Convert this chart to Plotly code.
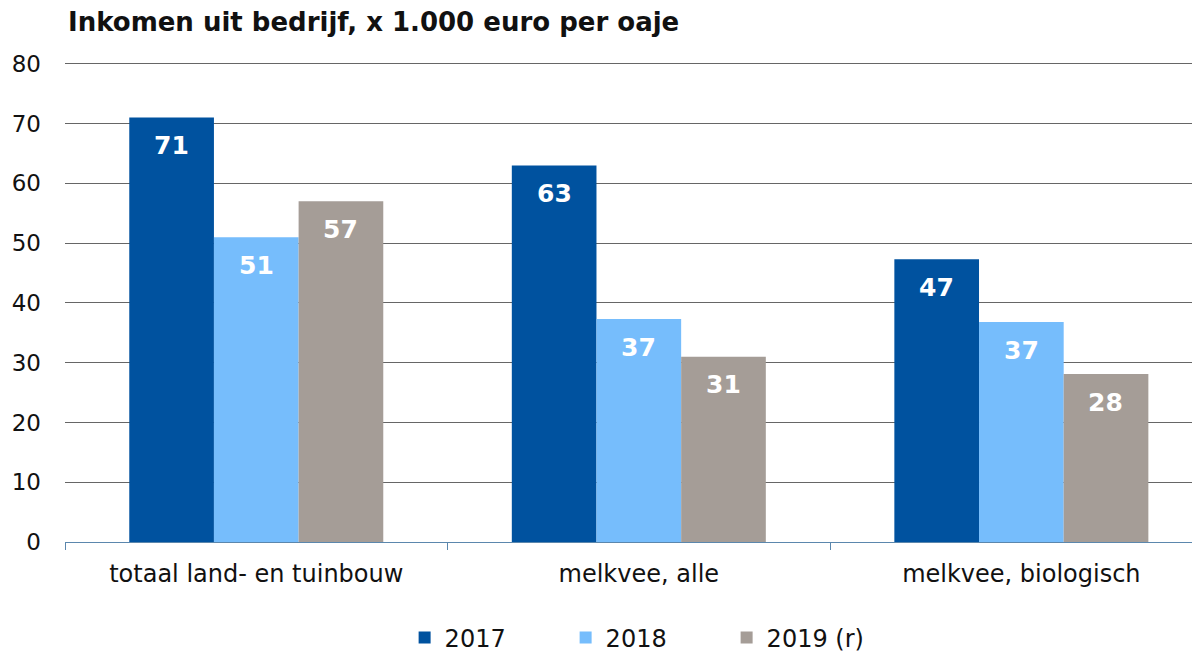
import plotly.graph_objects as go

categories = ["totaal land- en tuinbouw", "melkvee, alle", "melkvee, biologisch"]
series_names = ["2017", "2018", "2019 (r)"]
values_2017 = [71.0, 63.0, 47.3]
values_2018 = [51.0, 37.3, 36.8]
values_2019 = [57.0, 31.0, 28.1]
colors = ["#00529f", "#76bdfc", "#a59d97"]

font = "DejaVu Sans, Verdana, sans-serif"
bar_px = 84.5  # pixel width of one bar, used to centre the value labels

fig = go.Figure()
all_vals = [values_2017, values_2018, values_2019]
for name, vals, col in zip(series_names, all_vals, colors):
    fig.add_trace(go.Bar(
        x=categories, y=vals, name=name,
        marker=dict(color=col, line=dict(width=0)),
    ))

# value labels inside the bars, just under the top
for i, vals in enumerate(all_vals):
    for cat, v in zip(categories, vals):
        fig.add_annotation(
            x=cat, y=v, text=f"<b>{v:.0f}</b>", showarrow=False,
            xshift=(i - 1) * bar_px, yshift=-28, yanchor="middle",
            font=dict(family=font, size=25, color="white"),
        )

# page body adds an 8px offset, so margins are reduced by 8px
fig.update_layout(
    width=1192, height=655,
    barmode="group", bargap=0.336, bargroupgap=0,
    plot_bgcolor="white", paper_bgcolor="white",
    margin=dict(l=57, r=0, t=54, b=121),
    font=dict(family=font, size=23, color="#111111"),
    title=dict(text="<b>Inkomen uit bedrijf, x 1.000 euro per oaje</b>",
               x=60 / 1192, xanchor="left", y=1 - 14 / 655, yanchor="middle",
               font=dict(size=26, color="#111111")),
    legend=dict(orientation="h", x=0.512, xanchor="center", y=-0.2, yanchor="middle",
                font=dict(size=24), entrywidth=116, itemwidth=30, traceorder="normal"),
)
fig.update_xaxes(
    range=[-0.5, 2.467], showgrid=False, showline=True, linecolor="#5b87ad", linewidth=1,
    ticks="outside", tickson="boundaries", ticklen=7, tickcolor="#5b87ad",
    tickfont=dict(size=24), ticklabelstandoff=10, automargin=False,
)
fig.update_yaxes(
    range=[0, 80.3], tickvals=[0, 10, 20, 30, 40, 50, 60, 70, 80],
    showgrid=True, gridcolor="#666666", gridwidth=1,
    zeroline=False, showline=False, ticks="", tickfont=dict(size=23),
    ticklabelstandoff=23, automargin=False,
)

fig.write_html("out.html")
